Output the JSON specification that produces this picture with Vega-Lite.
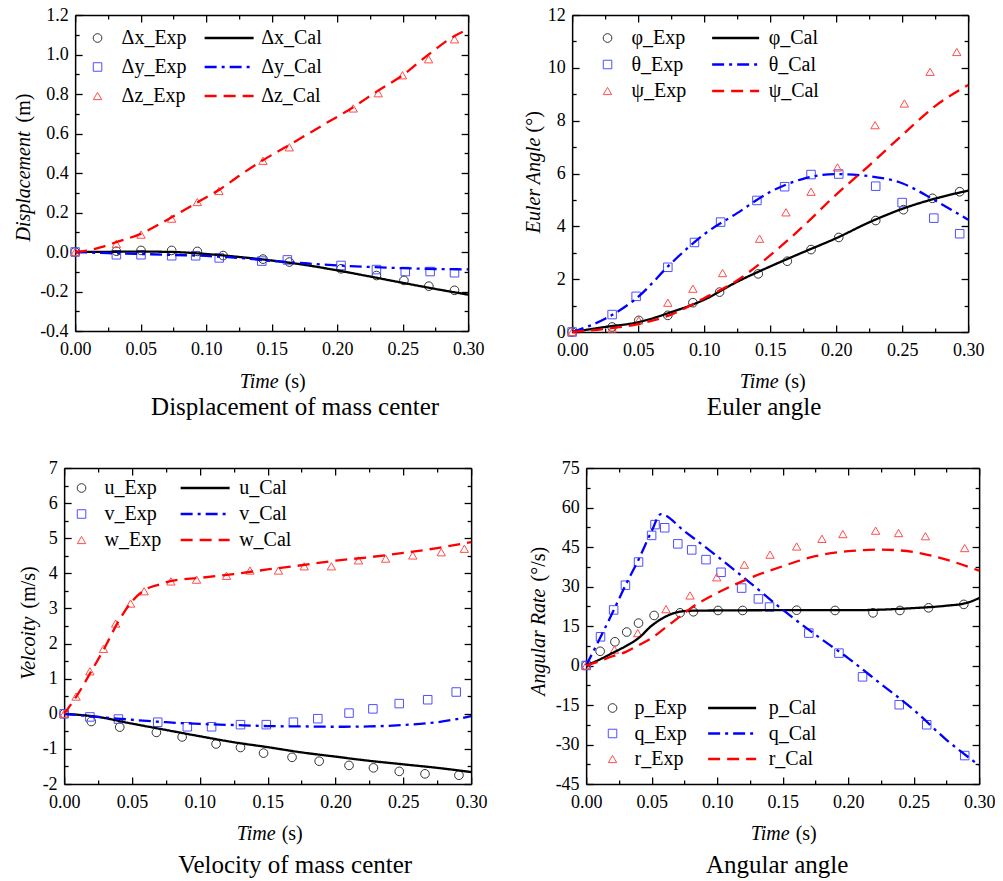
{
"$schema": "https://vega.github.io/schema/vega-lite/v6.json",
"background": "white",
"padding": {"left": 13, "top": 6, "right": 0, "bottom": 0},
"config": {
  "view": {"stroke": null},
  "font": "Liberation Serif",
  "axis": {"domainColor": "#000", "domainWidth": 1.5, "tickColor": "#000", "tickWidth": 1.3, "labelFont": "Liberation Serif", "labelFontSize": 18, "labelColor": "#000", "titleFont": "Liberation Serif", "titleFontSize": 20, "titleFontWeight": "normal", "titleColor": "#000", "grid": false, "labelFlush": false, "labelOverlap": false, "labelBound": false},
  "legend": {"labelFont": "Liberation Serif", "labelFontSize": 20, "labelColor": "#000", "padding": 0, "clipHeight": 20},
  "title": {"font": "Liberation Serif", "fontSize": 25, "fontWeight": "normal", "color": "#000"}
},
"datasets": {
  "p1e": [
    {"t":0,"v":0,"s":"Δx_Exp"},{"t":0.0315,"v":0.004,"s":"Δx_Exp"},{"t":0.0503,"v":0.008,"s":"Δx_Exp"},{"t":0.0737,"v":0.008,"s":"Δx_Exp"},{"t":0.0933,"v":0.003,"s":"Δx_Exp"},{"t":0.113,"v":-0.018,"s":"Δx_Exp"},{"t":0.1434,"v":-0.036,"s":"Δx_Exp"},{"t":0.1635,"v":-0.051,"s":"Δx_Exp"},{"t":0.203,"v":-0.085,"s":"Δx_Exp"},{"t":0.23,"v":-0.119,"s":"Δx_Exp"},{"t":0.251,"v":-0.144,"s":"Δx_Exp"},{"t":0.27,"v":-0.173,"s":"Δx_Exp"},{"t":0.2896,"v":-0.194,"s":"Δx_Exp"},
    {"t":0,"v":0,"s":"Δy_Exp"},{"t":0.0315,"v":-0.014,"s":"Δy_Exp"},{"t":0.0503,"v":-0.014,"s":"Δy_Exp"},{"t":0.0737,"v":-0.019,"s":"Δy_Exp"},{"t":0.092,"v":-0.019,"s":"Δy_Exp"},{"t":0.11,"v":-0.03,"s":"Δy_Exp"},{"t":0.1425,"v":-0.046,"s":"Δy_Exp"},{"t":0.162,"v":-0.04,"s":"Δy_Exp"},{"t":0.203,"v":-0.068,"s":"Δy_Exp"},{"t":0.23,"v":-0.089,"s":"Δy_Exp"},{"t":0.252,"v":-0.099,"s":"Δy_Exp"},{"t":0.271,"v":-0.099,"s":"Δy_Exp"},{"t":0.2896,"v":-0.105,"s":"Δy_Exp"},
    {"t":0,"v":0,"s":"Δz_Exp"},{"t":0.0315,"v":0.041,"s":"Δz_Exp"},{"t":0.0503,"v":0.088,"s":"Δz_Exp"},{"t":0.0737,"v":0.169,"s":"Δz_Exp"},{"t":0.0933,"v":0.253,"s":"Δz_Exp"},{"t":0.1098,"v":0.309,"s":"Δz_Exp"},{"t":0.1434,"v":0.462,"s":"Δz_Exp"},{"t":0.1635,"v":0.53,"s":"Δz_Exp"},{"t":0.2123,"v":0.727,"s":"Δz_Exp"},{"t":0.2314,"v":0.804,"s":"Δz_Exp"},{"t":0.2499,"v":0.895,"s":"Δz_Exp"},{"t":0.2698,"v":0.976,"s":"Δz_Exp"},{"t":0.2896,"v":1.077,"s":"Δz_Exp"}
  ],
  "p1c": [
    {"t":0,"v":0,"s":"Δx_Cal"},{"t":0.025,"v":0.001,"s":"Δx_Cal"},{"t":0.05,"v":0.002,"s":"Δx_Cal"},{"t":0.075,"v":0.0,"s":"Δx_Cal"},{"t":0.1,"v":-0.01,"s":"Δx_Cal"},{"t":0.125,"v":-0.025,"s":"Δx_Cal"},{"t":0.15,"v":-0.043,"s":"Δx_Cal"},{"t":0.175,"v":-0.065,"s":"Δx_Cal"},{"t":0.2,"v":-0.093,"s":"Δx_Cal"},{"t":0.225,"v":-0.124,"s":"Δx_Cal"},{"t":0.25,"v":-0.156,"s":"Δx_Cal"},{"t":0.275,"v":-0.187,"s":"Δx_Cal"},{"t":0.3,"v":-0.216,"s":"Δx_Cal"},
    {"t":0,"v":0,"s":"Δy_Cal"},{"t":0.025,"v":-0.006,"s":"Δy_Cal"},{"t":0.05,"v":-0.01,"s":"Δy_Cal"},{"t":0.075,"v":-0.015,"s":"Δy_Cal"},{"t":0.1,"v":-0.02,"s":"Δy_Cal"},{"t":0.125,"v":-0.03,"s":"Δy_Cal"},{"t":0.15,"v":-0.045,"s":"Δy_Cal"},{"t":0.175,"v":-0.057,"s":"Δy_Cal"},{"t":0.2,"v":-0.068,"s":"Δy_Cal"},{"t":0.225,"v":-0.076,"s":"Δy_Cal"},{"t":0.25,"v":-0.082,"s":"Δy_Cal"},{"t":0.275,"v":-0.086,"s":"Δy_Cal"},{"t":0.3,"v":-0.088,"s":"Δy_Cal"},
    {"t":0,"v":0,"s":"Δz_Cal"},{"t":0.01,"v":0.008,"s":"Δz_Cal"},{"t":0.02,"v":0.025,"s":"Δz_Cal"},{"t":0.0315,"v":0.05,"s":"Δz_Cal"},{"t":0.05,"v":0.092,"s":"Δz_Cal"},{"t":0.0737,"v":0.176,"s":"Δz_Cal"},{"t":0.095,"v":0.258,"s":"Δz_Cal"},{"t":0.11,"v":0.315,"s":"Δz_Cal"},{"t":0.125,"v":0.385,"s":"Δz_Cal"},{"t":0.1437,"v":0.466,"s":"Δz_Cal"},{"t":0.163,"v":0.54,"s":"Δz_Cal"},{"t":0.19,"v":0.646,"s":"Δz_Cal"},{"t":0.212,"v":0.732,"s":"Δz_Cal"},{"t":0.231,"v":0.816,"s":"Δz_Cal"},{"t":0.25,"v":0.895,"s":"Δz_Cal"},{"t":0.27,"v":1.001,"s":"Δz_Cal"},{"t":0.2896,"v":1.094,"s":"Δz_Cal"},{"t":0.3,"v":1.128,"s":"Δz_Cal"}
  ],
  "p2e": [
    {"t":0,"v":0,"s":"φ_Exp"},{"t":0.0303,"v":0.19,"s":"φ_Exp"},{"t":0.0505,"v":0.44,"s":"φ_Exp"},{"t":0.0725,"v":0.63,"s":"φ_Exp"},{"t":0.0915,"v":1.11,"s":"φ_Exp"},{"t":0.1117,"v":1.51,"s":"φ_Exp"},{"t":0.141,"v":2.2,"s":"φ_Exp"},{"t":0.163,"v":2.68,"s":"φ_Exp"},{"t":0.181,"v":3.12,"s":"φ_Exp"},{"t":0.202,"v":3.58,"s":"φ_Exp"},{"t":0.23,"v":4.22,"s":"φ_Exp"},{"t":0.251,"v":4.63,"s":"φ_Exp"},{"t":0.273,"v":5.06,"s":"φ_Exp"},{"t":0.2936,"v":5.31,"s":"φ_Exp"},
    {"t":0,"v":0,"s":"θ_Exp"},{"t":0.0303,"v":0.66,"s":"θ_Exp"},{"t":0.0485,"v":1.35,"s":"θ_Exp"},{"t":0.0725,"v":2.45,"s":"θ_Exp"},{"t":0.0927,"v":3.39,"s":"θ_Exp"},{"t":0.1125,"v":4.16,"s":"θ_Exp"},{"t":0.14,"v":4.98,"s":"θ_Exp"},{"t":0.161,"v":5.5,"s":"θ_Exp"},{"t":0.181,"v":5.96,"s":"θ_Exp"},{"t":0.202,"v":5.98,"s":"θ_Exp"},{"t":0.23,"v":5.52,"s":"θ_Exp"},{"t":0.25,"v":4.9,"s":"θ_Exp"},{"t":0.274,"v":4.31,"s":"θ_Exp"},{"t":0.2936,"v":3.72,"s":"θ_Exp"},
    {"t":0,"v":0,"s":"ψ_Exp"},{"t":0.0303,"v":0.13,"s":"ψ_Exp"},{"t":0.0505,"v":0.44,"s":"ψ_Exp"},{"t":0.0725,"v":1.11,"s":"ψ_Exp"},{"t":0.0915,"v":1.64,"s":"ψ_Exp"},{"t":0.114,"v":2.23,"s":"ψ_Exp"},{"t":0.142,"v":3.53,"s":"ψ_Exp"},{"t":0.162,"v":4.53,"s":"ψ_Exp"},{"t":0.181,"v":5.31,"s":"ψ_Exp"},{"t":0.201,"v":6.23,"s":"ψ_Exp"},{"t":0.2295,"v":7.83,"s":"ψ_Exp"},{"t":0.2517,"v":8.65,"s":"ψ_Exp"},{"t":0.2712,"v":9.85,"s":"ψ_Exp"},{"t":0.2914,"v":10.6,"s":"ψ_Exp"}
  ],
  "p2c": [
    {"t":0,"v":0,"s":"φ_Cal"},{"t":0.025,"v":0.19,"s":"φ_Cal"},{"t":0.05,"v":0.37,"s":"φ_Cal"},{"t":0.075,"v":0.75,"s":"φ_Cal"},{"t":0.1,"v":1.22,"s":"φ_Cal"},{"t":0.125,"v":1.9,"s":"φ_Cal"},{"t":0.15,"v":2.48,"s":"φ_Cal"},{"t":0.175,"v":3.02,"s":"φ_Cal"},{"t":0.2,"v":3.55,"s":"φ_Cal"},{"t":0.225,"v":4.15,"s":"φ_Cal"},{"t":0.25,"v":4.66,"s":"φ_Cal"},{"t":0.275,"v":5.05,"s":"φ_Cal"},{"t":0.3,"v":5.35,"s":"φ_Cal"},
    {"t":0,"v":0,"s":"θ_Cal"},{"t":0.025,"v":0.5,"s":"θ_Cal"},{"t":0.05,"v":1.33,"s":"θ_Cal"},{"t":0.075,"v":2.6,"s":"θ_Cal"},{"t":0.1,"v":3.7,"s":"θ_Cal"},{"t":0.125,"v":4.5,"s":"θ_Cal"},{"t":0.15,"v":5.3,"s":"θ_Cal"},{"t":0.175,"v":5.8,"s":"θ_Cal"},{"t":0.2,"v":5.98,"s":"θ_Cal"},{"t":0.225,"v":5.9,"s":"θ_Cal"},{"t":0.25,"v":5.63,"s":"θ_Cal"},{"t":0.275,"v":4.98,"s":"θ_Cal"},{"t":0.3,"v":4.25,"s":"θ_Cal"},
    {"t":0,"v":0,"s":"ψ_Cal"},{"t":0.025,"v":0.12,"s":"ψ_Cal"},{"t":0.05,"v":0.3,"s":"ψ_Cal"},{"t":0.075,"v":0.66,"s":"ψ_Cal"},{"t":0.1,"v":1.28,"s":"ψ_Cal"},{"t":0.125,"v":1.95,"s":"ψ_Cal"},{"t":0.15,"v":2.9,"s":"ψ_Cal"},{"t":0.175,"v":4.0,"s":"ψ_Cal"},{"t":0.2,"v":5.2,"s":"ψ_Cal"},{"t":0.225,"v":6.3,"s":"ψ_Cal"},{"t":0.25,"v":7.45,"s":"ψ_Cal"},{"t":0.275,"v":8.55,"s":"ψ_Cal"},{"t":0.3,"v":9.35,"s":"ψ_Cal"}
  ],
  "p3e": [
    {"t":0,"v":0,"s":"u_Exp"},{"t":0.02,"v":-0.22,"s":"u_Exp"},{"t":0.041,"v":-0.38,"s":"u_Exp"},{"t":0.068,"v":-0.53,"s":"u_Exp"},{"t":0.087,"v":-0.66,"s":"u_Exp"},{"t":0.112,"v":-0.86,"s":"u_Exp"},{"t":0.13,"v":-0.96,"s":"u_Exp"},{"t":0.147,"v":-1.12,"s":"u_Exp"},{"t":0.168,"v":-1.24,"s":"u_Exp"},{"t":0.188,"v":-1.35,"s":"u_Exp"},{"t":0.21,"v":-1.47,"s":"u_Exp"},{"t":0.228,"v":-1.54,"s":"u_Exp"},{"t":0.247,"v":-1.64,"s":"u_Exp"},{"t":0.266,"v":-1.71,"s":"u_Exp"},{"t":0.291,"v":-1.75,"s":"u_Exp"},
    {"t":0,"v":0,"s":"v_Exp"},{"t":0.019,"v":-0.09,"s":"v_Exp"},{"t":0.04,"v":-0.15,"s":"v_Exp"},{"t":0.069,"v":-0.24,"s":"v_Exp"},{"t":0.0908,"v":-0.37,"s":"v_Exp"},{"t":0.1087,"v":-0.37,"s":"v_Exp"},{"t":0.13,"v":-0.31,"s":"v_Exp"},{"t":0.149,"v":-0.31,"s":"v_Exp"},{"t":0.169,"v":-0.24,"s":"v_Exp"},{"t":0.187,"v":-0.14,"s":"v_Exp"},{"t":0.21,"v":0.02,"s":"v_Exp"},{"t":0.2276,"v":0.14,"s":"v_Exp"},{"t":0.247,"v":0.29,"s":"v_Exp"},{"t":0.268,"v":0.4,"s":"v_Exp"},{"t":0.289,"v":0.62,"s":"v_Exp"},
    {"t":0,"v":0,"s":"w_Exp"},{"t":0.0088,"v":0.49,"s":"w_Exp"},{"t":0.019,"v":1.21,"s":"w_Exp"},{"t":0.029,"v":1.85,"s":"w_Exp"},{"t":0.038,"v":2.57,"s":"w_Exp"},{"t":0.049,"v":3.14,"s":"w_Exp"},{"t":0.059,"v":3.49,"s":"w_Exp"},{"t":0.0787,"v":3.77,"s":"w_Exp"},{"t":0.0976,"v":3.82,"s":"w_Exp"},{"t":0.1197,"v":3.93,"s":"w_Exp"},{"t":0.137,"v":4.08,"s":"w_Exp"},{"t":0.158,"v":4.08,"s":"w_Exp"},{"t":0.177,"v":4.2,"s":"w_Exp"},{"t":0.197,"v":4.2,"s":"w_Exp"},{"t":0.217,"v":4.37,"s":"w_Exp"},{"t":0.237,"v":4.42,"s":"w_Exp"},{"t":0.257,"v":4.51,"s":"w_Exp"},{"t":0.278,"v":4.6,"s":"w_Exp"},{"t":0.295,"v":4.7,"s":"w_Exp"}
  ],
  "p3c": [
    {"t":0,"v":0,"s":"u_Cal"},{"t":0.025,"v":-0.09,"s":"u_Cal"},{"t":0.05,"v":-0.28,"s":"u_Cal"},{"t":0.075,"v":-0.46,"s":"u_Cal"},{"t":0.1,"v":-0.64,"s":"u_Cal"},{"t":0.125,"v":-0.81,"s":"u_Cal"},{"t":0.15,"v":-0.95,"s":"u_Cal"},{"t":0.175,"v":-1.1,"s":"u_Cal"},{"t":0.2,"v":-1.22,"s":"u_Cal"},{"t":0.225,"v":-1.34,"s":"u_Cal"},{"t":0.25,"v":-1.44,"s":"u_Cal"},{"t":0.275,"v":-1.54,"s":"u_Cal"},{"t":0.3,"v":-1.66,"s":"u_Cal"},
    {"t":0,"v":0,"s":"v_Cal"},{"t":0.025,"v":-0.09,"s":"v_Cal"},{"t":0.05,"v":-0.17,"s":"v_Cal"},{"t":0.075,"v":-0.24,"s":"v_Cal"},{"t":0.1,"v":-0.29,"s":"v_Cal"},{"t":0.125,"v":-0.32,"s":"v_Cal"},{"t":0.15,"v":-0.35,"s":"v_Cal"},{"t":0.175,"v":-0.36,"s":"v_Cal"},{"t":0.2,"v":-0.37,"s":"v_Cal"},{"t":0.225,"v":-0.36,"s":"v_Cal"},{"t":0.25,"v":-0.32,"s":"v_Cal"},{"t":0.275,"v":-0.24,"s":"v_Cal"},{"t":0.3,"v":-0.07,"s":"v_Cal"},
    {"t":0,"v":0,"s":"w_Cal"},{"t":0.01,"v":0.55,"s":"w_Cal"},{"t":0.02,"v":1.21,"s":"w_Cal"},{"t":0.03,"v":1.89,"s":"w_Cal"},{"t":0.04,"v":2.63,"s":"w_Cal"},{"t":0.05,"v":3.2,"s":"w_Cal"},{"t":0.06,"v":3.54,"s":"w_Cal"},{"t":0.07,"v":3.68,"s":"w_Cal"},{"t":0.08,"v":3.79,"s":"w_Cal"},{"t":0.1,"v":3.87,"s":"w_Cal"},{"t":0.125,"v":3.98,"s":"w_Cal"},{"t":0.15,"v":4.11,"s":"w_Cal"},{"t":0.175,"v":4.23,"s":"w_Cal"},{"t":0.2,"v":4.36,"s":"w_Cal"},{"t":0.225,"v":4.46,"s":"w_Cal"},{"t":0.25,"v":4.58,"s":"w_Cal"},{"t":0.275,"v":4.72,"s":"w_Cal"},{"t":0.3,"v":4.89,"s":"w_Cal"}
  ],
  "p4e": [
    {"t":0,"v":0,"s":"p_Exp"},{"t":0.0107,"v":5.4,"s":"p_Exp"},{"t":0.022,"v":9.0,"s":"p_Exp"},{"t":0.031,"v":12.7,"s":"p_Exp"},{"t":0.04,"v":16.1,"s":"p_Exp"},{"t":0.0519,"v":19.0,"s":"p_Exp"},{"t":0.0717,"v":20.0,"s":"p_Exp"},{"t":0.0819,"v":20.4,"s":"p_Exp"},{"t":0.1007,"v":20.9,"s":"p_Exp"},{"t":0.1195,"v":20.9,"s":"p_Exp"},{"t":0.1607,"v":21.0,"s":"p_Exp"},{"t":0.19,"v":20.9,"s":"p_Exp"},{"t":0.219,"v":20.0,"s":"p_Exp"},{"t":0.2395,"v":20.9,"s":"p_Exp"},{"t":0.2614,"v":21.9,"s":"p_Exp"},{"t":0.2883,"v":23.2,"s":"p_Exp"},
    {"t":0,"v":0,"s":"q_Exp"},{"t":0.011,"v":10.9,"s":"q_Exp"},{"t":0.021,"v":21.1,"s":"q_Exp"},{"t":0.03,"v":30.5,"s":"q_Exp"},{"t":0.04,"v":39.3,"s":"q_Exp"},{"t":0.05,"v":49.4,"s":"q_Exp"},{"t":0.0526,"v":53.5,"s":"q_Exp"},{"t":0.06,"v":52.3,"s":"q_Exp"},{"t":0.07,"v":46.2,"s":"q_Exp"},{"t":0.0806,"v":43.9,"s":"q_Exp"},{"t":0.0915,"v":40.2,"s":"q_Exp"},{"t":0.103,"v":35.4,"s":"q_Exp"},{"t":0.1187,"v":29.4,"s":"q_Exp"},{"t":0.1315,"v":25.3,"s":"q_Exp"},{"t":0.14,"v":22.2,"s":"q_Exp"},{"t":0.17,"v":12.3,"s":"q_Exp"},{"t":0.193,"v":4.7,"s":"q_Exp"},{"t":0.211,"v":-4.3,"s":"q_Exp"},{"t":0.239,"v":-14.9,"s":"q_Exp"},{"t":0.26,"v":-22.5,"s":"q_Exp"},{"t":0.289,"v":-34.2,"s":"q_Exp"},
    {"t":0,"v":0,"s":"r_Exp"},{"t":0.0216,"v":6.0,"s":"r_Exp"},{"t":0.0394,"v":12.3,"s":"r_Exp"},{"t":0.061,"v":21.4,"s":"r_Exp"},{"t":0.0793,"v":26.6,"s":"r_Exp"},{"t":0.0997,"v":33.5,"s":"r_Exp"},{"t":0.1208,"v":38.3,"s":"r_Exp"},{"t":0.1404,"v":42.1,"s":"r_Exp"},{"t":0.1607,"v":45.2,"s":"r_Exp"},{"t":0.18,"v":48.1,"s":"r_Exp"},{"t":0.196,"v":49.9,"s":"r_Exp"},{"t":0.221,"v":51.2,"s":"r_Exp"},{"t":0.2385,"v":50.3,"s":"r_Exp"},{"t":0.259,"v":49.1,"s":"r_Exp"},{"t":0.289,"v":44.6,"s":"r_Exp"}
  ],
  "p4c": [
    {"t":0,"v":0,"s":"p_Cal"},{"t":0.01,"v":2.2,"s":"p_Cal"},{"t":0.02,"v":4.7,"s":"p_Cal"},{"t":0.03,"v":7.3,"s":"p_Cal"},{"t":0.04,"v":10.4,"s":"p_Cal"},{"t":0.05,"v":15.1,"s":"p_Cal"},{"t":0.06,"v":18.4,"s":"p_Cal"},{"t":0.07,"v":20.3,"s":"p_Cal"},{"t":0.08,"v":20.8,"s":"p_Cal"},{"t":0.1,"v":20.9,"s":"p_Cal"},{"t":0.15,"v":21.0,"s":"p_Cal"},{"t":0.2,"v":21.0,"s":"p_Cal"},{"t":0.225,"v":21.2,"s":"p_Cal"},{"t":0.25,"v":21.8,"s":"p_Cal"},{"t":0.275,"v":22.7,"s":"p_Cal"},{"t":0.29,"v":23.7,"s":"p_Cal"},{"t":0.3,"v":25.6,"s":"p_Cal"},
    {"t":0,"v":0,"s":"q_Cal"},{"t":0.01,"v":9.8,"s":"q_Cal"},{"t":0.02,"v":19.9,"s":"q_Cal"},{"t":0.03,"v":30.4,"s":"q_Cal"},{"t":0.04,"v":40.2,"s":"q_Cal"},{"t":0.05,"v":51.0,"s":"q_Cal"},{"t":0.057,"v":57.5,"s":"q_Cal"},{"t":0.075,"v":51.0,"s":"q_Cal"},{"t":0.1,"v":41.5,"s":"q_Cal"},{"t":0.125,"v":31.5,"s":"q_Cal"},{"t":0.15,"v":21.2,"s":"q_Cal"},{"t":0.175,"v":11.7,"s":"q_Cal"},{"t":0.2,"v":2.8,"s":"q_Cal"},{"t":0.225,"v":-7.0,"s":"q_Cal"},{"t":0.25,"v":-16.8,"s":"q_Cal"},{"t":0.275,"v":-28.2,"s":"q_Cal"},{"t":0.3,"v":-37.9,"s":"q_Cal"},
    {"t":0,"v":0,"s":"r_Cal"},{"t":0.01,"v":1.6,"s":"r_Cal"},{"t":0.02,"v":3.5,"s":"r_Cal"},{"t":0.03,"v":5.1,"s":"r_Cal"},{"t":0.04,"v":7.7,"s":"r_Cal"},{"t":0.05,"v":10.4,"s":"r_Cal"},{"t":0.06,"v":14.2,"s":"r_Cal"},{"t":0.07,"v":18.0,"s":"r_Cal"},{"t":0.08,"v":21.8,"s":"r_Cal"},{"t":0.1,"v":27.5,"s":"r_Cal"},{"t":0.125,"v":33.2,"s":"r_Cal"},{"t":0.15,"v":37.7,"s":"r_Cal"},{"t":0.175,"v":41.5,"s":"r_Cal"},{"t":0.2,"v":43.4,"s":"r_Cal"},{"t":0.225,"v":44.0,"s":"r_Cal"},{"t":0.25,"v":43.1,"s":"r_Cal"},{"t":0.275,"v":40.2,"s":"r_Cal"},{"t":0.3,"v":36.0,"s":"r_Cal"}
  ]
},
"resolve": {"scale": {"x": "independent", "y": "independent", "stroke": "independent", "shape": "independent", "size": "independent", "color": "independent", "strokeDash": "independent"}, "legend": {"stroke": "independent", "shape": "independent", "size": "independent", "color": "independent", "strokeDash": "independent"}},
"spacing": 39,
"center": true,
"vconcat": [
 {"hconcat": [
  {"width": 393, "height": 316,
   "title": {"text": "Displacement of mass center", "orient": "bottom", "frame": "group", "anchor": "middle", "dx": 23.5, "offset": 4},
   "layer": [
    {"data": {"name": "p1e"}, "mark": {"type": "point", "filled": false, "strokeWidth": 1, "opacity": 1},
     "encoding": {
      "x": {"field": "t", "type": "quantitative", "scale": {"domain": [0, 0.3], "nice": false, "zero": false},
        "axis": {"orient": "bottom", "values": [0,0.025,0.05,0.075,0.1,0.125,0.15,0.175,0.2,0.225,0.25,0.275,0.3], "labelExpr": "abs(datum.value/0.05-round(datum.value/0.05))<0.01 ? format(datum.value,'.2f') : ''", "tickSize": {"condition": {"test": "abs(datum.value/0.05-round(datum.value/0.05))<0.01", "value": -7}, "value": -4}, "labelPadding": 16, "title": "Time", "titleFontStyle": "italic", "titleAlign": "right", "titleBaseline": "alphabetic", "titleAngle": 0, "titleX": 203, "titleY": 56}},
      "y": {"field": "v", "type": "quantitative", "scale": {"domain": [-0.4, 1.2], "nice": false, "zero": false},
        "axis": {"orient": "left", "values": [-0.4,-0.3,-0.2,-0.1,0,0.1,0.2,0.3,0.4,0.5,0.6,0.7,0.8,0.9,1.0,1.1,1.2], "labelExpr": "abs(datum.value/0.2-round(datum.value/0.2))<0.01 ? replace(format(datum.value,'.1f'),'−','-') : ''", "tickSize": {"condition": {"test": "abs(datum.value/0.2-round(datum.value/0.2))<0.01", "value": -7}, "value": -4}, "labelPadding": 14, "title": "Displacement", "titleFontStyle": "italic", "titleAngle": -90, "titleAlign": "right", "titleBaseline": "alphabetic", "titleX": -45.5, "titleY": 116}},
      "stroke": {"field": "s", "type": "nominal", "scale": {"domain": ["Δx_Exp","Δy_Exp","Δz_Exp"], "range": ["#333333","#4f4fff","#ff4d4d"]},
        "legend": {"orient": "none", "legendX": 12.4, "legendY": 13, "title": null, "symbolStrokeWidth": 1, "labelOffset": 14, "rowPadding": 9}},
      "shape": {"field": "s", "type": "nominal", "scale": {"domain": ["Δx_Exp","Δy_Exp","Δz_Exp"], "range": ["circle","square","triangle-up"]},
        "legend": {"orient": "none", "legendX": 12.4, "legendY": 13, "title": null, "symbolStrokeWidth": 1, "labelOffset": 14, "rowPadding": 9}},
      "size": {"field": "s", "type": "nominal", "scale": {"domain": ["Δx_Exp","Δy_Exp","Δz_Exp"], "range": [75, 70, 125]},
        "legend": {"orient": "none", "legendX": 12.4, "legendY": 13, "title": null, "symbolStrokeWidth": 1, "labelOffset": 14, "rowPadding": 9}}
     }},
    {"data": {"name": "p1c"}, "mark": {"type": "line", "strokeWidth": 2.3, "interpolate": "monotone"},
     "encoding": {
      "x": {"field": "t", "type": "quantitative", "scale": {"domain": [0, 0.3], "nice": false, "zero": false},
        "axis": {"orient": "top", "values": [0,0.025,0.05,0.075,0.1,0.125,0.15,0.175,0.2,0.225,0.25,0.275,0.3], "labels": false, "tickSize": {"condition": {"test": "abs(datum.value/0.05-round(datum.value/0.05))<0.01", "value": -7}, "value": -4}, "title": "(s)", "titleAlign": "left", "titleBaseline": "alphabetic", "titleAngle": 0, "titleX": 209, "titleY": 372}},
      "y": {"field": "v", "type": "quantitative", "scale": {"domain": [-0.4, 1.2], "nice": false, "zero": false},
        "axis": {"orient": "right", "values": [-0.4,-0.3,-0.2,-0.1,0,0.1,0.2,0.3,0.4,0.5,0.6,0.7,0.8,0.9,1.0,1.1,1.2], "labels": false, "tickSize": {"condition": {"test": "abs(datum.value/0.2-round(datum.value/0.2))<0.01", "value": -7}, "value": -4}, "title": "(m)", "titleAngle": -90, "titleAlign": "left", "titleBaseline": "alphabetic", "titleX": -438.5, "titleY": 107}},
      "color": {"field": "s", "type": "nominal", "scale": {"domain": ["Δx_Cal","Δy_Cal","Δz_Cal"], "range": ["#000000","#0000ff","#ff0000"]},
        "legend": {"orient": "none", "legendX": 128, "legendY": 13, "title": null, "symbolType": "stroke", "symbolSize": 2401, "symbolStrokeWidth": 2.3, "labelOffset": 6, "rowPadding": 9}},
      "strokeDash": {"field": "s", "type": "nominal", "scale": {"domain": ["Δx_Cal","Δy_Cal","Δz_Cal"], "range": [[1,0],[12,5,3,5],[12,7]]},
        "legend": {"orient": "none", "legendX": 128, "legendY": 13, "title": null, "symbolType": "stroke", "symbolSize": 2401, "symbolStrokeWidth": 2.3, "labelOffset": 6, "rowPadding": 9}}
     }}
   ],
   "resolve": {"axis": {"x": "independent", "y": "independent"}}
  },
  {"width": 396, "height": 317,
   "title": {"text": "Euler angle", "orient": "bottom", "frame": "group", "anchor": "middle", "dx": -6, "offset": 4},
   "layer": [
    {"data": {"name": "p2e"}, "mark": {"type": "point", "filled": false, "strokeWidth": 1, "opacity": 1},
     "encoding": {
      "x": {"field": "t", "type": "quantitative", "scale": {"domain": [0, 0.3], "nice": false, "zero": false},
        "axis": {"orient": "bottom", "values": [0,0.025,0.05,0.075,0.1,0.125,0.15,0.175,0.2,0.225,0.25,0.275,0.3], "labelExpr": "abs(datum.value/0.05-round(datum.value/0.05))<0.01 ? format(datum.value,'.2f') : ''", "tickSize": {"condition": {"test": "abs(datum.value/0.05-round(datum.value/0.05))<0.01", "value": -7}, "value": -4}, "labelPadding": 16, "title": "Time", "titleFontStyle": "italic", "titleAlign": "right", "titleBaseline": "alphabetic", "titleAngle": 0, "titleX": 206, "titleY": 55}},
      "y": {"field": "v", "type": "quantitative", "scale": {"domain": [0, 12], "nice": false, "zero": false},
        "axis": {"orient": "left", "values": [0,1,2,3,4,5,6,7,8,9,10,11,12], "labelExpr": "abs(datum.value/2-round(datum.value/2))<0.01 ? format(datum.value,'d') : ''", "tickSize": {"condition": {"test": "abs(datum.value/2-round(datum.value/2))<0.01", "value": -7}, "value": -4}, "labelPadding": 14, "title": "Euler Angle", "titleFontStyle": "italic", "titleAngle": -90, "titleAlign": "right", "titleBaseline": "alphabetic", "titleX": -33, "titleY": 122}},
      "stroke": {"field": "s", "type": "nominal", "scale": {"domain": ["φ_Exp","θ_Exp","ψ_Exp"], "range": ["#333333","#4f4fff","#ff4d4d"]},
        "legend": {"orient": "none", "legendX": 25.4, "legendY": 13, "title": null, "symbolStrokeWidth": 1, "labelOffset": 14, "rowPadding": 6.5}},
      "shape": {"field": "s", "type": "nominal", "scale": {"domain": ["φ_Exp","θ_Exp","ψ_Exp"], "range": ["circle","square","triangle-up"]},
        "legend": {"orient": "none", "legendX": 25.4, "legendY": 13, "title": null, "symbolStrokeWidth": 1, "labelOffset": 14, "rowPadding": 6.5}},
      "size": {"field": "s", "type": "nominal", "scale": {"domain": ["φ_Exp","θ_Exp","ψ_Exp"], "range": [75, 70, 125]},
        "legend": {"orient": "none", "legendX": 25.4, "legendY": 13, "title": null, "symbolStrokeWidth": 1, "labelOffset": 14, "rowPadding": 6.5}}
     }},
    {"data": {"name": "p2c"}, "mark": {"type": "line", "strokeWidth": 2.3, "interpolate": "monotone"},
     "encoding": {
      "x": {"field": "t", "type": "quantitative", "scale": {"domain": [0, 0.3], "nice": false, "zero": false},
        "axis": {"orient": "top", "values": [0,0.025,0.05,0.075,0.1,0.125,0.15,0.175,0.2,0.225,0.25,0.275,0.3], "labels": false, "tickSize": {"condition": {"test": "abs(datum.value/0.05-round(datum.value/0.05))<0.01", "value": -7}, "value": -4}, "title": "(s)", "titleAlign": "left", "titleBaseline": "alphabetic", "titleAngle": 0, "titleX": 212, "titleY": 372}},
      "y": {"field": "v", "type": "quantitative", "scale": {"domain": [0, 12], "nice": false, "zero": false},
        "axis": {"orient": "right", "values": [0,1,2,3,4,5,6,7,8,9,10,11,12], "labels": false, "tickSize": {"condition": {"test": "abs(datum.value/2-round(datum.value/2))<0.01", "value": -7}, "value": -4}, "title": "(°)", "titleAngle": -90, "titleAlign": "left", "titleBaseline": "alphabetic", "titleX": -429, "titleY": 117}},
      "color": {"field": "s", "type": "nominal", "scale": {"domain": ["φ_Cal","θ_Cal","ψ_Cal"], "range": ["#000000","#0000ff","#ff0000"]},
        "legend": {"orient": "none", "legendX": 138.5, "legendY": 13, "title": null, "symbolType": "stroke", "symbolSize": 2209, "symbolStrokeWidth": 2.3, "labelOffset": 8, "rowPadding": 6.5}},
      "strokeDash": {"field": "s", "type": "nominal", "scale": {"domain": ["φ_Cal","θ_Cal","ψ_Cal"], "range": [[1,0],[12,5,3,5],[12,7]]},
        "legend": {"orient": "none", "legendX": 138.5, "legendY": 13, "title": null, "symbolType": "stroke", "symbolSize": 2209, "symbolStrokeWidth": 2.3, "labelOffset": 8, "rowPadding": 6.5}}
     }}
   ],
   "resolve": {"axis": {"x": "independent", "y": "independent"}}
  }
 ], "spacing": 104, "bounds": "flush",
 "resolve": {"scale": {"x": "independent", "y": "independent", "stroke": "independent", "shape": "independent", "size": "independent", "color": "independent", "strokeDash": "independent"}, "legend": {"stroke": "independent", "shape": "independent", "size": "independent", "color": "independent", "strokeDash": "independent"}}},
 {"hconcat": [
  {"width": 407, "height": 316,
   "title": {"text": "Velocity of mass center", "orient": "bottom", "frame": "group", "anchor": "middle", "dx": 27.5, "offset": 10},
   "layer": [
    {"data": {"name": "p3e"}, "mark": {"type": "point", "filled": false, "strokeWidth": 1, "opacity": 1},
     "encoding": {
      "x": {"field": "t", "type": "quantitative", "scale": {"domain": [0, 0.3], "nice": false, "zero": false},
        "axis": {"orient": "bottom", "values": [0,0.025,0.05,0.075,0.1,0.125,0.15,0.175,0.2,0.225,0.25,0.275,0.3], "labelExpr": "abs(datum.value/0.05-round(datum.value/0.05))<0.01 ? format(datum.value,'.2f') : ''", "tickSize": {"condition": {"test": "abs(datum.value/0.05-round(datum.value/0.05))<0.01", "value": -7}, "value": -4}, "labelPadding": 16, "title": "Time", "titleFontStyle": "italic", "titleAlign": "right", "titleBaseline": "alphabetic", "titleAngle": 0, "titleX": 211, "titleY": 55}},
      "y": {"field": "v", "type": "quantitative", "scale": {"domain": [-2, 7], "nice": false, "zero": false},
        "axis": {"orient": "left", "values": [-2,-1.5,-1,-0.5,0,0.5,1,1.5,2,2.5,3,3.5,4,4.5,5,5.5,6,6.5,7], "labelExpr": "abs(datum.value-round(datum.value))<0.01 ? replace(format(datum.value,'d'),'−','-') : ''", "tickSize": {"condition": {"test": "abs(datum.value-round(datum.value))<0.01", "value": -7}, "value": -4}, "labelPadding": 14, "title": "Velcoity", "titleFontStyle": "italic", "titleAngle": -90, "titleAlign": "right", "titleBaseline": "alphabetic", "titleX": -30, "titleY": 148}},
      "stroke": {"field": "s", "type": "nominal", "scale": {"domain": ["u_Exp","v_Exp","w_Exp"], "range": ["#333333","#4f4fff","#ff4d4d"]},
        "legend": {"orient": "none", "legendX": 7.4, "legendY": 10, "title": null, "symbolStrokeWidth": 1, "labelOffset": 13, "rowPadding": 6}},
      "shape": {"field": "s", "type": "nominal", "scale": {"domain": ["u_Exp","v_Exp","w_Exp"], "range": ["circle","square","triangle-up"]},
        "legend": {"orient": "none", "legendX": 7.4, "legendY": 10, "title": null, "symbolStrokeWidth": 1, "labelOffset": 13, "rowPadding": 6}},
      "size": {"field": "s", "type": "nominal", "scale": {"domain": ["u_Exp","v_Exp","w_Exp"], "range": [75, 70, 125]},
        "legend": {"orient": "none", "legendX": 7.4, "legendY": 10, "title": null, "symbolStrokeWidth": 1, "labelOffset": 13, "rowPadding": 6}}
     }},
    {"data": {"name": "p3c"}, "mark": {"type": "line", "strokeWidth": 2.3, "interpolate": "monotone"},
     "encoding": {
      "x": {"field": "t", "type": "quantitative", "scale": {"domain": [0, 0.3], "nice": false, "zero": false},
        "axis": {"orient": "top", "values": [0,0.025,0.05,0.075,0.1,0.125,0.15,0.175,0.2,0.225,0.25,0.275,0.3], "labels": false, "tickSize": {"condition": {"test": "abs(datum.value/0.05-round(datum.value/0.05))<0.01", "value": -7}, "value": -4}, "title": "(s)", "titleAlign": "left", "titleBaseline": "alphabetic", "titleAngle": 0, "titleX": 217, "titleY": 371}},
      "y": {"field": "v", "type": "quantitative", "scale": {"domain": [-2, 7], "nice": false, "zero": false},
        "axis": {"orient": "right", "values": [-2,-1.5,-1,-0.5,0,0.5,1,1.5,2,2.5,3,3.5,4,4.5,5,5.5,6,6.5,7], "labels": false, "tickSize": {"condition": {"test": "abs(datum.value-round(datum.value))<0.01", "value": -7}, "value": -4}, "title": "(m/s)", "titleAngle": -90, "titleAlign": "left", "titleBaseline": "alphabetic", "titleX": -437, "titleY": 140}},
      "color": {"field": "s", "type": "nominal", "scale": {"domain": ["u_Cal","v_Cal","w_Cal"], "range": ["#000000","#0000ff","#ff0000"]},
        "legend": {"orient": "none", "legendX": 115, "legendY": 10, "title": null, "symbolType": "stroke", "symbolSize": 2401, "symbolStrokeWidth": 2.3, "labelOffset": 8, "rowPadding": 6}},
      "strokeDash": {"field": "s", "type": "nominal", "scale": {"domain": ["u_Cal","v_Cal","w_Cal"], "range": [[1,0],[12,5,3,5],[12,7]]},
        "legend": {"orient": "none", "legendX": 115, "legendY": 10, "title": null, "symbolType": "stroke", "symbolSize": 2401, "symbolStrokeWidth": 2.3, "labelOffset": 8, "rowPadding": 6}}
     }}
   ],
   "resolve": {"axis": {"x": "independent", "y": "independent"}}
  },
  {"width": 393, "height": 316,
   "title": {"text": "Angular angle", "orient": "bottom", "frame": "group", "anchor": "middle", "dx": -5.5, "offset": 10},
   "layer": [
    {"data": {"name": "p4e"}, "mark": {"type": "point", "filled": false, "strokeWidth": 1, "opacity": 1},
     "encoding": {
      "x": {"field": "t", "type": "quantitative", "scale": {"domain": [0, 0.3], "nice": false, "zero": false},
        "axis": {"orient": "bottom", "values": [0,0.025,0.05,0.075,0.1,0.125,0.15,0.175,0.2,0.225,0.25,0.275,0.3], "labelExpr": "abs(datum.value/0.05-round(datum.value/0.05))<0.01 ? format(datum.value,'.2f') : ''", "tickSize": {"condition": {"test": "abs(datum.value/0.05-round(datum.value/0.05))<0.01", "value": -7}, "value": -4}, "labelPadding": 16, "title": "Time", "titleFontStyle": "italic", "titleAlign": "right", "titleBaseline": "alphabetic", "titleAngle": 0, "titleX": 203, "titleY": 55}},
      "y": {"field": "v", "type": "quantitative", "scale": {"domain": [-45, 75], "nice": false, "zero": false},
        "axis": {"orient": "left", "values": [-45,-37.5,-30,-22.5,-15,-7.5,0,7.5,15,22.5,30,37.5,45,52.5,60,67.5,75], "labelExpr": "abs(datum.value/15-round(datum.value/15))<0.01 ? replace(format(datum.value,'d'),'−','-') : ''", "tickSize": {"condition": {"test": "abs(datum.value/15-round(datum.value/15))<0.01", "value": -7}, "value": -4}, "labelPadding": 14, "title": "Angular Rate", "titleFontStyle": "italic", "titleAngle": -90, "titleAlign": "right", "titleBaseline": "alphabetic", "titleX": -41.5, "titleY": 120}},
      "stroke": {"field": "s", "type": "nominal", "scale": {"domain": ["p_Exp","q_Exp","r_Exp"], "range": ["#333333","#4f4fff","#ff4d4d"]},
        "legend": {"orient": "none", "legendX": 16.4, "legendY": 230, "title": null, "symbolStrokeWidth": 1, "labelOffset": 12, "rowPadding": 5.5}},
      "shape": {"field": "s", "type": "nominal", "scale": {"domain": ["p_Exp","q_Exp","r_Exp"], "range": ["circle","square","triangle-up"]},
        "legend": {"orient": "none", "legendX": 16.4, "legendY": 230, "title": null, "symbolStrokeWidth": 1, "labelOffset": 12, "rowPadding": 5.5}},
      "size": {"field": "s", "type": "nominal", "scale": {"domain": ["p_Exp","q_Exp","r_Exp"], "range": [75, 70, 125]},
        "legend": {"orient": "none", "legendX": 16.4, "legendY": 230, "title": null, "symbolStrokeWidth": 1, "labelOffset": 12, "rowPadding": 5.5}}
     }},
    {"data": {"name": "p4c"}, "mark": {"type": "line", "strokeWidth": 2.3, "interpolate": "monotone"},
     "encoding": {
      "x": {"field": "t", "type": "quantitative", "scale": {"domain": [0, 0.3], "nice": false, "zero": false},
        "axis": {"orient": "top", "values": [0,0.025,0.05,0.075,0.1,0.125,0.15,0.175,0.2,0.225,0.25,0.275,0.3], "labels": false, "tickSize": {"condition": {"test": "abs(datum.value/0.05-round(datum.value/0.05))<0.01", "value": -7}, "value": -4}, "title": "(s)", "titleAlign": "left", "titleBaseline": "alphabetic", "titleAngle": 0, "titleX": 209, "titleY": 371}},
      "y": {"field": "v", "type": "quantitative", "scale": {"domain": [-45, 75], "nice": false, "zero": false},
        "axis": {"orient": "right", "values": [-45,-37.5,-30,-22.5,-15,-7.5,0,7.5,15,22.5,30,37.5,45,52.5,60,67.5,75], "labels": false, "tickSize": {"condition": {"test": "abs(datum.value/15-round(datum.value/15))<0.01", "value": -7}, "value": -4}, "title": "(°/s)", "titleAngle": -90, "titleAlign": "left", "titleBaseline": "alphabetic", "titleX": -434.5, "titleY": 113}},
      "color": {"field": "s", "type": "nominal", "scale": {"domain": ["p_Cal","q_Cal","r_Cal"], "range": ["#000000","#0000ff","#ff0000"]},
        "legend": {"orient": "none", "legendX": 120.5, "legendY": 230, "title": null, "symbolType": "stroke", "symbolSize": 2304, "symbolStrokeWidth": 2.3, "labelOffset": 11, "rowPadding": 5.5}},
      "strokeDash": {"field": "s", "type": "nominal", "scale": {"domain": ["p_Cal","q_Cal","r_Cal"], "range": [[1,0],[12,5,3,5],[12,7]]},
        "legend": {"orient": "none", "legendX": 120.5, "legendY": 230, "title": null, "symbolType": "stroke", "symbolSize": 2304, "symbolStrokeWidth": 2.3, "labelOffset": 11, "rowPadding": 5.5}}
     }}
   ],
   "resolve": {"axis": {"x": "independent", "y": "independent"}}
  }
 ], "spacing": 115, "bounds": "flush",
 "resolve": {"scale": {"x": "independent", "y": "independent", "stroke": "independent", "shape": "independent", "size": "independent", "color": "independent", "strokeDash": "independent"}, "legend": {"stroke": "independent", "shape": "independent", "size": "independent", "color": "independent", "strokeDash": "independent"}}}
]
}
